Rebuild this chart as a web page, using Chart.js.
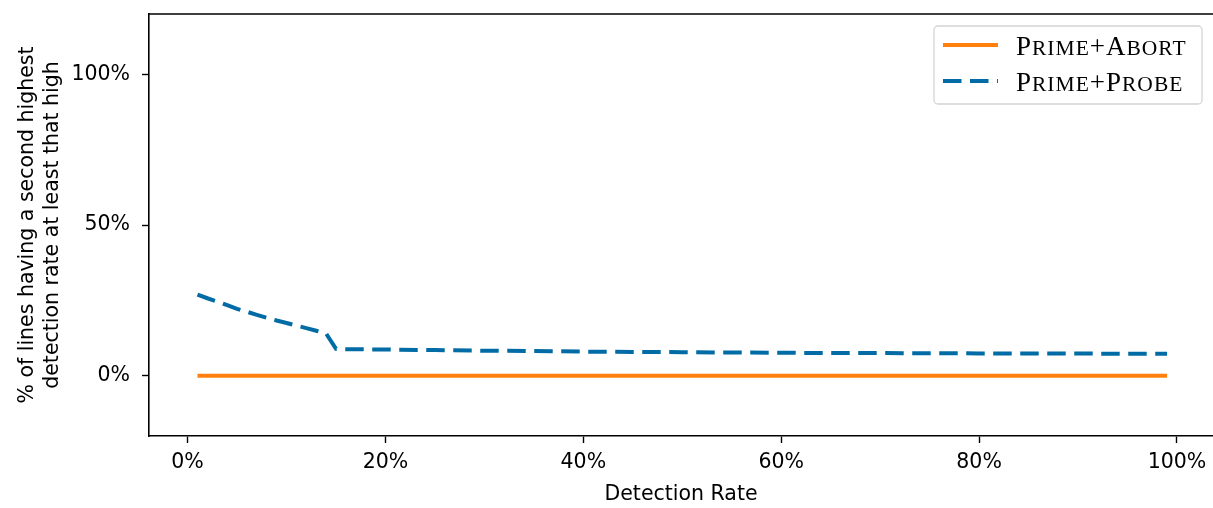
<!DOCTYPE html>
<html>
<head>
<meta charset="utf-8">
<script src="https://cdn.jsdelivr.net/npm/chart.js@4"></script>
<style>
  html, body { margin: 0; padding: 0; background: #fff; }
  #wrap { width: 1213px; height: 508px; position: relative; }
</style>
</head>
<body>
<div id="wrap"><canvas id="chart"></canvas></div>
<script>
// detection rate (%) sampled along the x axis
const abortRates = [1, 5, 10, 15, 20, 30, 40, 50, 60, 70, 80, 90, 99];
const abortValues = [0, 0, 0, 0, 0, 0, 0, 0, 0, 0, 0, 0, 0];

const probeRates = [1, 2, 3, 4, 5, 6, 7, 8, 9, 10, 11, 12, 13, 14, 15, 16, 20, 25, 30, 35, 40, 45, 50, 55, 60, 65, 70, 75, 80, 85, 90, 95, 99];
const probeValues = [26.9, 25.7, 24.6, 23.4, 22.2, 21.2, 20.2, 19.2, 18.3, 17.5, 16.6, 15.8, 14.9, 14.0, 8.9, 8.8, 8.7, 8.5, 8.3, 8.2, 8.0, 7.9, 7.8, 7.7, 7.6, 7.55, 7.5, 7.45, 7.4, 7.4, 7.35, 7.3, 7.3];

const xTicks = [0, 20, 40, 60, 80, 100];
const yTicks = [0, 50, 100];

const seriesNames = [['P', 'rime', '+', 'A', 'bort'], ['P', 'rime', '+', 'P', 'robe']];
const ORANGE = '#ff800e';
const BLUE = '#006ba4';
const FONT = "'DejaVu Sans', sans-serif";

Chart.defaults.font.family = FONT;
Chart.defaults.font.size = 20.5;
Chart.defaults.color = '#000';

// top spine (matplotlib box)
const framePlugin = {
    id: 'frame',
    afterDraw(chart) {
        const { ctx, chartArea } = chart;
        ctx.save();
        ctx.strokeStyle = '#000';
        ctx.lineWidth = 1.6;
        ctx.beginPath();
        ctx.moveTo(chartArea.left - 0.8, chartArea.top);
        ctx.lineTo(chartArea.right, chartArea.top);
        ctx.stroke();
        ctx.restore();
    }
};

// legend box inside the axes, top right, with small caps text
const legendPlugin = {
    id: 'boxLegend',
    afterDraw(chart) {
        const ctx = chart.ctx;
        const bx = 934, by = 26, bw = 268, bh = 78;
        ctx.save();
        ctx.beginPath();
        ctx.roundRect(bx, by, bw, bh, 4);
        ctx.fillStyle = 'rgba(255,255,255,0.85)';
        ctx.fill();
        ctx.strokeStyle = '#d4d4d4';
        ctx.lineWidth = 1.3;
        ctx.stroke();

        chart.data.datasets.forEach((ds, i) => {
            const ly = 45 + i * 36;
            ctx.beginPath();
            ctx.strokeStyle = ds.borderColor;
            ctx.lineWidth = ds.borderWidth;
            ctx.setLineDash(ds.borderDash || []);
            ctx.moveTo(943, ly);
            ctx.lineTo(998, ly);
            ctx.stroke();
            ctx.setLineDash([]);

            // fake small caps: capitals full size, rest smaller uppercase
            let x = 1016;
            const big = 27, small = 21.5;
            ctx.fillStyle = '#000';
            ctx.textBaseline = 'alphabetic';
            ctx.letterSpacing = '1px';
            seriesNames[i].forEach(part => {
                const isBig = part === part.toUpperCase();
                ctx.font = (isBig ? big : small) + "px 'Liberation Serif', serif";
                const txt = part.toUpperCase();
                ctx.fillText(txt, x, ly + 10);
                x += ctx.measureText(txt).width;
            });
        });
        ctx.restore();
    }
};

const ctx = document.getElementById('chart').getContext('2d');
new Chart(ctx, {
    type: 'line',
    data: {
        datasets: [
            {
                label: 'Prime+Abort',
                data: abortRates.map((r, i) => ({ x: r, y: abortValues[i] })),
                borderColor: ORANGE,
                borderWidth: 4,
                pointRadius: 0,
                tension: 0,
                borderCapStyle: 'butt'
            },
            {
                label: 'Prime+Probe',
                data: probeRates.map((r, i) => ({ x: r, y: probeValues[i] })),
                borderColor: BLUE,
                borderWidth: 4,
                borderDash: [18.5, 8.5],
                pointRadius: 0,
                tension: 0,
                borderCapStyle: 'butt'
            }
        ]
    },
    options: {
        responsive: true, maintainAspectRatio: false,
        animation: false,
        layout: { padding: { top: 14, right: 0, left: 0, bottom: 0 } },
        plugins: { legend: { display: false }, tooltip: { enabled: false } },
        scales: {
            x: {
                type: 'linear',
                min: -3.9, max: 103.64,
                afterBuildTicks: s => { s.ticks = xTicks.map(v => ({ value: v })); },
                afterFit: s => { s.height = 72; s.paddingLeft = 0; s.paddingRight = 0; },
                ticks: { callback: v => v + '%', padding: 7, maxRotation: 0, autoSkip: false, font: { family: FONT, size: 20.5 } },
                grid: { drawOnChartArea: false, drawTicks: true, tickLength: 7, tickColor: '#000', tickWidth: 1.4 },
                border: { display: true, color: '#000', width: 1.6 },
                title: { display: true, text: 'Detection Rate', padding: { top: 0, bottom: 1 }, font: { family: FONT, size: 20.5, lineHeight: 1.2 } }
            },
            y: {
                min: -20, max: 120,
                afterBuildTicks: s => { s.ticks = yTicks.map(v => ({ value: v })); },
                afterFit: s => { s.width = 149; s.paddingTop = 0; s.paddingBottom = 0; },
                ticks: { callback: v => v + '%', padding: 12, font: { family: FONT, size: 20.5 } },
                grid: { drawOnChartArea: false, drawTicks: true, tickLength: 7, tickColor: '#000', tickWidth: 1.4 },
                border: { display: true, color: '#000', width: 1.6 },
                title: {
                    display: true,
                    text: ['% of lines having a second highest', 'detection rate at least that high'],
                    padding: { top: 14.5, bottom: 0 },
                    font: { family: FONT, size: 20.5, lineHeight: 1.25 }
                }
            }
        }
    },
    plugins: [framePlugin, legendPlugin]
});
</script>
</body>
</html>
